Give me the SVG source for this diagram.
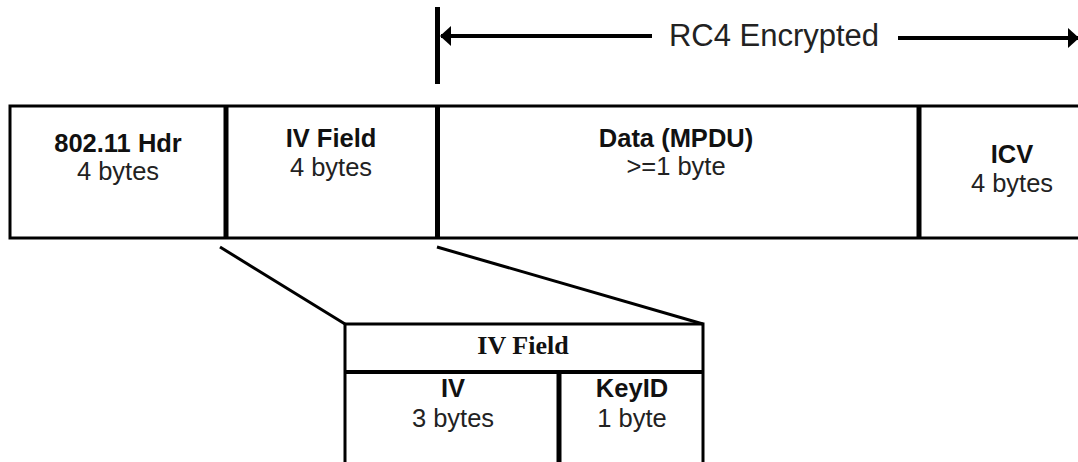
<svg xmlns="http://www.w3.org/2000/svg" width="1078" height="462" viewBox="0 0 1078 462">
<style>
.t{font-family:"Liberation Sans",Arial,sans-serif;font-size:25.5px;fill:#222;text-anchor:middle}
.b{font-weight:bold;fill:#111}
.s{font-family:"Liberation Serif","Times New Roman",serif;font-size:26px;font-weight:bold;fill:#111;text-anchor:middle}
.ln{stroke:#000;fill:none}
</style>
<defs>
<marker id="ah" viewBox="0 0 11 20" refX="10" refY="10" markerWidth="11" markerHeight="20" orient="auto-start-reverse" markerUnits="userSpaceOnUse">
<path d="M0,0 L11,10 L0,20 z" fill="#000"/>
</marker>
</defs>
<rect width="1078" height="462" fill="#fff"/>
<g id="rc4-label">
<line class="ln" x1="437.5" y1="7" x2="437.5" y2="84" stroke-width="5"/>
<text class="t" x="774" y="46" style="font-size:31px">RC4 Encrypted</text>
</g>
<g id="frame">
<rect class="ln" x="10" y="106" width="1090" height="132" stroke-width="3"/>
</g>
<g id="hdr">
<line class="ln" x1="226" y1="106" x2="226" y2="238" stroke-width="5"/>
<text class="t b" x="118" y="152">802.11 Hdr</text>
<text class="t" x="118" y="180">4 bytes</text>
</g>
<g id="ivfield">
<line class="ln" x1="437.5" y1="106" x2="437.5" y2="238" stroke-width="5"/>
<text class="t b" x="331" y="147">IV Field</text>
<text class="t" x="331" y="176">4 bytes</text>
</g>
<g id="data">
<line class="ln" x1="919" y1="106" x2="919" y2="238" stroke-width="5"/>
<text class="t b" x="676" y="147">Data (MPDU)</text>
<text class="t" x="676" y="175">&gt;=1 byte</text>
</g>
<g id="icv">
<text class="t b" x="1012" y="163">ICV</text>
<text class="t" x="1012" y="192">4 bytes</text>
</g>
<g id="ivdetail">
<rect class="ln" x="345" y="324" width="358" height="150" stroke-width="3"/>
<line class="ln" x1="345" y1="372" x2="703" y2="372" stroke-width="4"/>
<line class="ln" x1="559" y1="372" x2="559" y2="462" stroke-width="5"/>
<text class="s" x="523" y="354">IV Field</text>
<text class="t b" x="453" y="397">IV</text>
<text class="t" x="453" y="427">3 bytes</text>
<text class="t b" x="632" y="397">KeyID</text>
<text class="t" x="632" y="427">1 byte</text>
</g>
<g id="connectors">
<line class="ln" x1="652" y1="36" x2="441" y2="36" stroke-width="4" marker-end="url(#ah)"/>
<line class="ln" x1="898" y1="38" x2="1078" y2="38" stroke-width="4" marker-end="url(#ah)"/>
<line class="ln" x1="220" y1="247" x2="345" y2="324" stroke-width="3"/>
<line class="ln" x1="437" y1="247" x2="703" y2="324" stroke-width="3"/>
</g>
</svg>
